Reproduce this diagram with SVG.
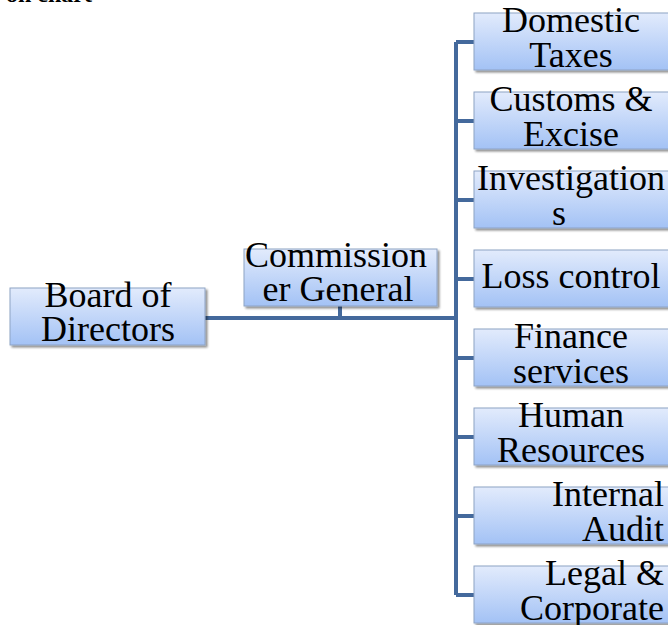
<svg xmlns="http://www.w3.org/2000/svg" width="668" height="625" viewBox="0 0 668 625">
<defs>
<linearGradient id="g" x1="0" y1="0" x2="0" y2="1">
<stop offset="0" stop-color="#e2ebfc"/>
<stop offset="1" stop-color="#a3c2f5"/>
</linearGradient>
<filter id="sh" x="-5%" y="-10%" width="115%" height="130%">
<feGaussianBlur in="SourceAlpha" stdDeviation="1"/>
<feOffset dx="2" dy="2" result="b"/>
<feComponentTransfer><feFuncA type="linear" slope="0.45"/></feComponentTransfer>
<feMerge><feMergeNode/><feMergeNode in="SourceGraphic"/></feMerge>
</filter>
</defs>
<style>
.box{fill:url(#g);stroke:#8ea3c4;stroke-width:1;filter:url(#sh)}
.t{font-family:"Liberation Serif","Times New Roman",serif;font-size:36px;fill:#000;text-anchor:middle}
.r{text-anchor:end}
.ln{stroke:#44699c;stroke-width:4;fill:none}
.hd{font-family:"Liberation Serif","Times New Roman",serif;font-size:24px;font-weight:bold;fill:#000}
</style>
<rect width="668" height="625" fill="#fff"/>
<text class="hd" x="6" y="2">on chart</text>
<g id="connectors">
<path class="ln" d="M205 318 H456"/>
<path class="ln" d="M340 306 V318"/>
<path class="ln" d="M456 42 V595"/>
<path class="ln" d="M456 42 H474 M456 121 H474 M456 200 H474 M456 279 H474 M456 358 H474 M456 437 H474 M456 516 H474 M456 595 H474"/>
</g>
<g id="board">
<rect class="box" x="10" y="288" width="195" height="57"/>
<text class="t" x="108" y="307">Board of</text>
<text class="t" x="108" y="341">Directors</text>
</g>
<g id="commissioner">
<rect class="box" x="244" y="249" width="193" height="57"/>
<text class="t" x="336" y="267">Commission</text>
<text class="t" x="338" y="301">er General</text>
</g>
<g id="domestic">
<rect class="box" x="474" y="13" width="195" height="57"/>
<text class="t" x="571" y="32">Domestic</text>
<text class="t" x="571" y="67">Taxes</text>
</g>
<g id="customs">
<rect class="box" x="474" y="92" width="195" height="57"/>
<text class="t" x="571" y="111">Customs &amp;</text>
<text class="t" x="571" y="146">Excise</text>
</g>
<g id="investigations">
<rect class="box" x="474" y="171" width="195" height="57"/>
<text class="t" x="571" y="190">Investigation</text>
<text class="t" x="559" y="225">s</text>
</g>
<g id="loss">
<rect class="box" x="474" y="250" width="195" height="57"/>
<text class="t" x="571" y="288">Loss control</text>
</g>
<g id="finance">
<rect class="box" x="474" y="329" width="195" height="57"/>
<text class="t" x="571" y="348">Finance</text>
<text class="t" x="571" y="383">services</text>
</g>
<g id="hr">
<rect class="box" x="474" y="408" width="195" height="57"/>
<text class="t" x="571" y="427">Human</text>
<text class="t" x="571" y="462">Resources</text>
</g>
<g id="audit">
<rect class="box" x="474" y="487" width="195" height="57"/>
<text class="t r" x="664" y="506">Internal</text>
<text class="t r" x="664" y="541">Audit</text>
</g>
<g id="legal">
<rect class="box" x="474" y="566" width="195" height="57"/>
<text class="t r" x="664" y="585">Legal &amp;</text>
<text class="t r" x="664" y="620">Corporate</text>
</g>
</svg>
